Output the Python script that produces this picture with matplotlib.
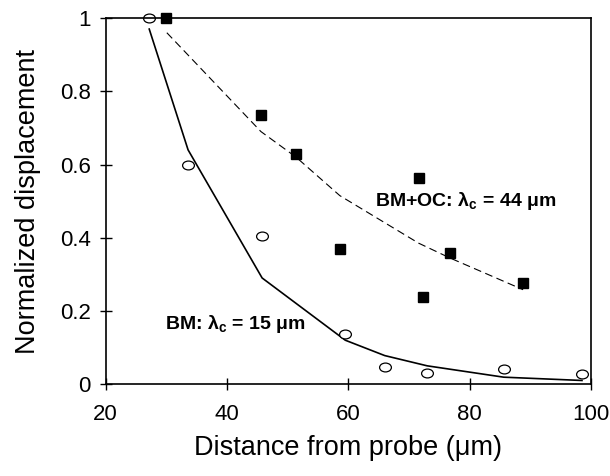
import matplotlib
matplotlib.use("Agg")
import matplotlib.pyplot as plt
from matplotlib.path import Path
from matplotlib.transforms import Affine2D

plt.rcParams["font.family"] = ["Liberation Sans", "DejaVu Sans"]
plt.rcParams["mathtext.fontset"] = "custom"
plt.rcParams["mathtext.rm"] = "Liberation Sans"
plt.rcParams["mathtext.bf"] = "Liberation Sans:bold"

# BM only (open circles + solid fit)
bm_x = [27.2, 33.6, 45.8, 59.5, 66.0, 73.0, 85.6, 98.5]
bm_y = [1.00, 0.60, 0.405, 0.137, 0.047, 0.030, 0.040, 0.027]
bm_fit = [0.97, 0.64, 0.29, 0.12, 0.078, 0.050, 0.019, 0.010]

# BM+OC (filled squares + dashed fit)
oc_x = [29.9, 45.6, 51.4, 58.6, 71.6, 72.3, 76.7, 88.8]
oc_y = [1.00, 0.735, 0.628, 0.369, 0.562, 0.238, 0.358, 0.276]
oc_fit_x = [30.1, 45.6, 51.4, 58.6, 71.6, 76.7, 88.8]
oc_fit = [0.96, 0.69, 0.62, 0.515, 0.385, 0.345, 0.258]

xticks = [20, 40, 60, 80, 100]
yticks = [0, 0.2, 0.4, 0.6, 0.8, 1]
ytick_labels = ["0", "0.2", "0.4", "0.6", "0.8", "1"]

# the scanned circles are slightly flattened
ellipse = Path.unit_circle().transformed(Affine2D().scale(1.0, 0.75))

fig = plt.figure(figsize=(6.10, 4.76), dpi=100)
ax = fig.add_axes([0.173, 0.193, 0.796, 0.769])

ax.plot(bm_x, bm_fit, color="black", lw=1.2)
ax.plot(oc_fit_x, oc_fit, color="black", lw=0.8, dashes=(7, 4))
ax.plot(bm_x, bm_y, marker=ellipse, ls="none", mfc="white", mec="black",
        mew=0.9, ms=8.5, clip_on=False)
ax.plot(oc_x, oc_y, "s", color="black", ms=7.5, clip_on=False)

ax.text(64.4, 0.50, r"BM+OC: λ$_\mathbf{c}$ = 44 μm", fontsize=14,
        fontweight="bold", va="center", ha="left")
ax.text(29.8, 0.163, r"BM: λ$_\mathbf{c}$ = 15 μm", fontsize=14,
        fontweight="bold", va="center", ha="left")

ax.set_xlim(20, 100)
ax.set_ylim(0, 1)
ax.set_xticks(xticks)
ax.set_yticks(yticks)
ax.set_yticklabels(ytick_labels)
ax.tick_params(direction="inout", length=9, width=1, labelsize=16, colors="black")
ax.tick_params(axis="x", pad=10)
ax.tick_params(axis="y", pad=6)
for s in ax.spines.values():
    s.set_linewidth(1.2)

ax.set_xlabel("Distance from probe (μm)", fontsize=19.5, labelpad=7)
ax.set_ylabel("Normalized displacement", fontsize=19.5, labelpad=14)

fig.savefig("out.png", dpi=100)
